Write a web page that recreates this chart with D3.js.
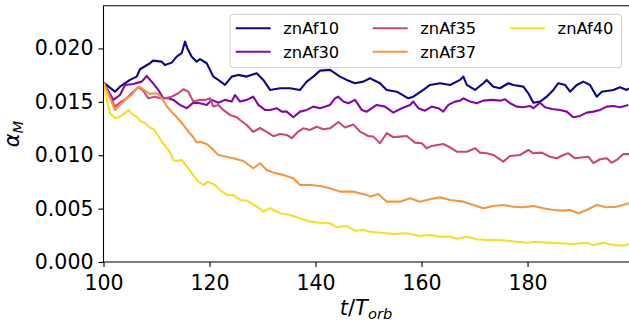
<!DOCTYPE html>
<html>
<head>
<meta charset="utf-8">
<script src="https://cdn.jsdelivr.net/npm/d3@7/dist/d3.min.js"></script>
<style>
  html, body { margin: 0; padding: 0; background: #fff; }
  svg { display: block; font-family: "DejaVu Sans", sans-serif; }
</style>
</head>
<body>
<svg id="chart" width="629" height="322"></svg>
<script>
// Time samples (t/T_orb) and alpha_M values (in units of 1e-3) for each run.
const znAf10 = [
  [100,16.8],[102.17,15.95],[103.11,16.42],[105.0,17.05],[106.26,17.36],[106.89,18.05],[108.77,18.61],
  [109.34,18.86],[110.98,18.76],[111.6,18.45],[112.87,18.67],[113.81,19.23],[114.75,19.55],[115.38,20.64],
  [115.81,20.02],[116.64,19.23],[117.58,18.76],[118.21,18.99],[119.47,18.61],[120.72,17.36],[121.66,17.05],
  [122.92,16.58],[124.19,17.36],[125.43,17.52],[127.02,17.36],[128.91,17.68],[130.15,17.05],[131.42,16.11],
  [133.3,16.27],[135.19,16.27],[137.08,16.11],[138.34,16.89],[139.58,17.36],[140.85,17.92],[142.74,17.99],
  [144.62,17.36],[145.89,17.05],[147.45,16.74],[149.02,16.89],[150.28,17.21],[152.17,16.74],[153.43,16.11],
  [155.32,15.95],[157.51,15.33],[158.45,15.48],[160.34,16.11],[161.6,16.58],[163.49,16.74],[165.38,16.58],
  [167.26,17.05],[167.89,17.36],[168.53,16.58],[170.09,16.11],[171.66,16.74],[172.3,17.05],[173.55,16.42],
  [174.81,16.27],[176.38,16.74],[177.32,16.58],[179.21,16.42],[180.15,15.8],[181.09,14.92],[182.36,15.02],
  [183.62,15.48],[184.87,16.11],[185.81,16.74],[187.08,16.58],[188.02,15.95],[189.28,16.58],[190.53,16.89],
  [191.79,16.58],[193.06,15.48],[194.0,15.95],[196.19,16.11],[197.45,16.37],[198.72,16.11],[199.15,16.27]
];
const znAf30 = [
  [100,16.8],[101.85,15.18],[103.11,15.64],[104.06,16.58],[105.62,16.67],[107.21,16.89],[108.15,17.42],
  [109.09,16.89],[110.34,16.11],[111.28,15.33],[112.23,15.33],[113.17,15.18],[114.43,14.71],[115.7,14.4],
  [116.94,14.92],[118.21,14.87],[119.47,14.71],[120.42,15.18],[121.66,14.92],[122.92,15.18],[124.19,15.02],
  [124.81,15.64],[125.75,15.02],[127.02,15.18],[128.26,15.48],[129.21,14.71],[130.47,14.24],[131.42,14.24],
  [132.68,14.4],[133.62,14.08],[134.57,14.08],[135.81,13.55],[137.08,14.08],[138.34,14.24],[139.58,14.55],
  [140.85,14.4],[142.74,14.71],[143.68,15.33],[144.3,15.48],[145.25,15.02],[146.19,14.87],[147.45,15.18],
  [148.72,14.24],[149.66,14.08],[150.28,14.3],[151.55,14.71],[153.11,14.55],[154.68,13.99],[156.26,14.4],
  [157.83,14.71],[158.45,15.02],[159.4,14.4],[160.66,14.17],[161.92,14.55],[163.17,14.4],[164.11,14.08],
  [165.06,14.71],[166.32,15.02],[167.26,15.11],[167.89,15.33],[169.15,15.02],[170.42,14.87],[171.66,15.11],
  [173.25,15.18],[174.81,15.11],[175.75,15.24],[176.7,14.87],[177.96,14.55],[179.21,14.49],[180.47,14.61],
  [181.09,14.4],[182.36,14.92],[183.3,14.49],[184.57,14.33],[186.13,14.24],[187.4,14.08],[188.64,13.55],
  [189.91,13.68],[191.17,13.99],[192.42,14.08],[193.68,14.24],[194.94,14.55],[196.19,14.61],[197.45,14.49],
  [199.02,14.71]
];
const znAf35 = [
  [100,16.8],[102.17,14.55],[103.11,14.92],[104.38,15.33],[105.62,15.95],[106.57,16.37],[107.51,16.05],
  [108.45,15.33],[109.72,15.48],[110.66,15.33],[111.6,15.33],[112.87,15.48],[114.11,15.8],[115.06,16.18],
  [116.0,15.95],[116.94,15.02],[118.21,15.18],[119.15,15.18],[120.09,15.33],[120.72,14.55],[121.66,14.71],
  [122.6,14.24],[123.87,13.77],[125.13,13.56],[125.75,13.3],[127.02,12.83],[128.26,12.18],[129.53,12.55],
  [130.79,12.18],[132.04,11.78],[133.3,11.99],[134.57,11.9],[135.51,11.59],[136.75,12.21],[137.7,12.52],
  [138.96,12.37],[140.23,12.67],[141.47,12.43],[142.74,12.52],[144.3,13.11],[145.57,12.6],[147.13,12.88],
  [148.4,12.21],[149.96,11.8],[150.91,11.74],[152.17,11.12],[153.43,12.06],[154.68,11.68],[155.94,11.74],
  [157.21,11.8],[158.77,11.18],[160.04,11.12],[160.98,10.65],[161.92,10.87],[164.11,11.05],[165.38,10.74],
  [166.64,10.33],[168.53,10.33],[170.09,10.65],[171.04,10.24],[172.3,10.18],[173.55,10.02],[175.43,9.4],
  [176.7,9.93],[178.58,10.02],[180.15,10.49],[181.09,10.18],[182.68,10.24],[184.25,9.86],[185.51,9.71],
  [186.75,10.02],[187.7,10.18],[188.96,9.71],[190.53,9.81],[191.47,9.86],[192.42,9.25],[193.68,9.62],
  [194.94,9.71],[195.89,9.3],[196.83,9.56],[198.08,10.12],[199.15,10.12]
];
const znAf37 = [
  [100,16.8],[102.17,14.24],[103.11,14.71],[104.38,15.33],[105.32,15.64],[106.26,16.27],[106.89,16.37],
  [107.83,16.05],[108.77,15.74],[109.72,15.8],[110.34,15.74],[110.98,15.33],[111.92,14.61],[112.87,14.05],
  [113.81,13.58],[115.06,12.83],[116.0,12.22],[116.94,11.68],[117.58,11.19],[118.21,11.27],[119.47,11.05],
  [120.42,10.65],[121.66,10.02],[122.6,9.93],[123.55,9.81],[124.49,9.71],[126.38,9.46],[128.26,8.78],
  [129.53,9.25],[130.79,8.62],[132.04,8.37],[133.92,8.15],[135.81,7.84],[137.08,7.21],[138.96,7.21],
  [140.85,7.12],[142.74,6.9],[144.62,6.59],[147.13,6.59],[149.66,6.28],[150.28,6.12],[151.85,6.37],
  [153.43,5.65],[155.94,5.65],[157.83,5.97],[159.72,5.65],[161.6,5.87],[163.49,6.06],[165.38,5.81],
  [167.89,5.65],[169.77,5.34],[171.66,5.03],[173.55,5.25],[175.43,5.34],[177.32,5.18],[179.21,5.12],
  [181.09,5.25],[182.98,5.03],[184.87,4.87],[186.75,4.81],[188.02,4.87],[189.58,4.56],[191.17,4.87],
  [193.06,5.34],[194.94,5.12],[196.83,5.18],[199.15,5.5]
];
const znAf40 = [
  [100,16.8],[100.66,15.18],[101.23,13.96],[102.17,13.46],[103.11,13.61],[104.06,13.93],[104.68,14.24],
  [105.62,13.77],[106.32,13.58],[106.89,13.21],[107.83,13.02],[108.77,12.6],[109.4,12.46],[110.34,11.8],
  [111.04,11.24],[111.92,10.68],[112.55,10.3],[113.17,9.56],[113.87,9.46],[114.75,9.56],[116.0,8.78],
  [117.58,7.68],[118.83,7.21],[119.77,7.52],[121.04,7.21],[121.98,6.74],[123.25,6.28],[124.49,6.28],
  [125.75,5.81],[127.02,5.74],[128.91,5.18],[130.15,4.71],[131.42,5.03],[133.3,4.56],[135.19,4.4],
  [137.08,4.09],[138.96,3.78],[140.85,3.68],[142.74,3.63],[144.0,3.25],[145.89,3.37],[147.45,2.93],
  [149.02,3.0],[150.28,2.84],[152.17,2.74],[154.68,2.62],[157.21,2.69],[159.72,2.44],[161.6,2.53],
  [163.49,2.37],[165.38,2.37],[166.64,2.18],[168.53,2.37],[170.42,2.13],[172.3,2.06],[174.19,2.06],
  [176.08,2.0],[177.96,1.9],[179.85,1.81],[181.74,1.9],[183.62,1.81],[186.13,1.75],[188.64,1.69],
  [191.17,1.81],[192.42,1.59],[194.3,1.81],[196.19,1.59],[198.08,1.53],[199.15,1.69]
];

const seriesNames = ["znAf10", "znAf30", "znAf35", "znAf37", "znAf40"];
const seriesData = [znAf10, znAf30, znAf35, znAf37, znAf40];
const seriesColors = ["#0d0887", "#8606a6", "#cc4778", "#f89540", "#f5e026"];

const xTicks = [100, 120, 140, 160, 180];
const yTicks = [0.000, 0.005, 0.010, 0.015, 0.020];

// Layout of the plotting area
const plotLeft = 103.5, plotTop = 5.7, plotBottom = 262, plotRight = 630.9;

const svg = d3.select("#chart");

const x = d3.scaleLinear().domain([100, 199.5]).range([plotLeft, plotRight]);
const y = d3.scaleLinear().domain([0, 0.024]).range([plotBottom, plotTop]);

// Clip region for the plotting area
svg.append("defs").append("clipPath").attr("id", "plot-clip")
  .append("rect").attr("x", plotLeft).attr("y", plotTop)
  .attr("width", plotRight - plotLeft).attr("height", plotBottom - plotTop);

// Lines
const line = d3.line()
  .x(d => x(d[0]))
  .y(d => y(d[1] * 1e-3));

const plot = svg.append("g").attr("clip-path", "url(#plot-clip)");
seriesData.forEach((data, i) => {
  plot.append("path")
    .datum(data)
    .attr("d", line)
    .attr("fill", "none")
    .attr("stroke", seriesColors[i])
    .attr("stroke-width", 2.1)
    .attr("stroke-linejoin", "round")
    .attr("stroke-linecap", "butt");
});

// Axes
const xAxis = d3.axisBottom(x).tickValues(xTicks).tickSize(5).tickPadding(4)
  .tickFormat(d3.format("d"));
const yAxis = d3.axisLeft(y).tickValues(yTicks).tickSize(5).tickPadding(5)
  .tickFormat(d3.format(".3f"));

const gx = svg.append("g").attr("transform", `translate(0,${plotBottom})`).call(xAxis);
const gy = svg.append("g").attr("transform", `translate(${plotLeft},0)`).call(yAxis);

[gx, gy].forEach(g => {
  g.select(".domain").remove();
  g.selectAll(".tick line").attr("stroke", "#000").attr("stroke-width", 1.1);
  g.selectAll(".tick text")
    .attr("fill", "#000")
    .style("font-family", "DejaVu Sans")
    .style("font-size", "20.5px");
});
gx.selectAll(".tick text").attr("dy", "0.95em");

// Spines: left, bottom, top (right edge sits at the canvas border)
svg.append("path")
  .attr("d", `M${plotRight},${plotTop}H${plotLeft}V${plotBottom}H${plotRight}`)
  .attr("fill", "none").attr("stroke", "#000").attr("stroke-width", 1.1);

// Axis labels
const xl = svg.append("text")
  .attr("x", 366).attr("y", 315)
  .attr("text-anchor", "middle")
  .style("font-family", "DejaVu Sans")
  .style("font-size", "21px");
xl.append("tspan").style("font-style", "italic").text("t");
xl.append("tspan").text("/");
xl.append("tspan").style("font-style", "italic").text("T");
xl.append("tspan").style("font-style", "italic").style("font-size", "14.7px")
  .attr("dy", 4).text("orb");

const yl = svg.append("text")
  .attr("transform", "translate(19,134) rotate(-90)")
  .attr("text-anchor", "middle")
  .style("font-family", "DejaVu Sans")
  .style("font-size", "21px");
yl.append("tspan").style("font-style", "italic").text("α");
yl.append("tspan").style("font-style", "italic").style("font-size", "14.7px")
  .attr("dy", 4).text("M");

// Legend
const legend = svg.append("g");
legend.append("rect")
  .attr("x", 230).attr("y", 14.3).attr("width", 391.7).attr("height", 53.4)
  .attr("rx", 3.5).attr("ry", 3.5)
  .attr("fill", "#fff").attr("fill-opacity", 0.8)
  .attr("stroke", "#cccccc").attr("stroke-width", 1);

const colX = [235.7, 372.7, 510];
const rowY = [28.3, 51.7];
seriesNames.forEach((name, i) => {
  const col = Math.floor(i / 2), row = i % 2;
  const g = legend.append("g")
    .attr("transform", `translate(${colX[col]},${rowY[row]})`);
  g.append("line")
    .attr("x1", 0).attr("x2", 35).attr("y1", 0).attr("y2", 0)
    .attr("stroke", seriesColors[i]).attr("stroke-width", 2.1);
  g.append("text")
    .attr("x", 47.6).attr("y", 0)
    .attr("dy", "0.36em")
    .style("font-family", "DejaVu Sans")
    .style("font-size", "16.3px")
    .attr("fill", "#000")
    .text(name);
});
</script>
</body>
</html>
